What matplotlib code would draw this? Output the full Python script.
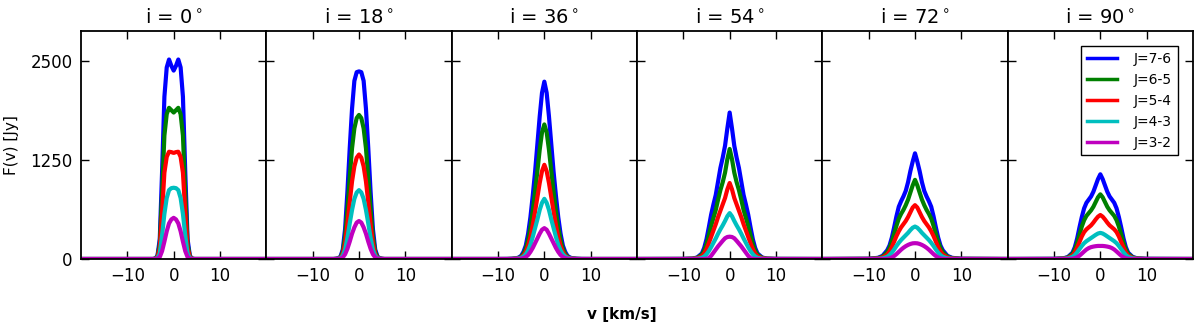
import numpy as np
import matplotlib
matplotlib.use("Agg")
import matplotlib.pyplot as plt

# Half-profile velocity grid (km/s); profiles are symmetric about v=0
v_half = [0, 0.5, 1, 1.5, 2, 2.5, 3, 3.5, 4, 4.5, 5, 5.5, 6, 7, 8, 10, 20]

inclinations = [0, 18, 36, 54, 72, 90]
transitions = ["J=7-6", "J=6-5", "J=5-4", "J=4-3", "J=3-2"]
colors = ["b", "g", "r", "c", "m"]

# Flux (Jy) per inclination, per transition, on v_half
flux_i0 = [
    [2380, 2440, 2520, 2420, 2050, 1100, 250, 40, 5, 0, 0, 0, 0, 0, 0, 0, 0],
    [1850, 1880, 1910, 1830, 1560, 830, 190, 30, 4, 0, 0, 0, 0, 0, 0, 0, 0],
    [1340, 1350, 1355, 1290, 1090, 590, 140, 20, 3, 0, 0, 0, 0, 0, 0, 0, 0],
    [900, 895, 870, 770, 570, 300, 70, 10, 2, 0, 0, 0, 0, 0, 0, 0, 0],
    [520, 500, 450, 350, 220, 100, 25, 5, 0, 0, 0, 0, 0, 0, 0, 0, 0],
]
flux_i18 = [
    [2370, 2360, 2250, 1900, 1400, 850, 380, 120, 30, 10, 3, 0, 0, 0, 0, 0, 0],
    [1820, 1780, 1650, 1400, 1030, 630, 280, 90, 20, 6, 2, 0, 0, 0, 0, 0, 0],
    [1320, 1280, 1170, 980, 720, 440, 200, 60, 15, 4, 1, 0, 0, 0, 0, 0, 0],
    [870, 840, 760, 620, 450, 270, 120, 40, 10, 3, 0, 0, 0, 0, 0, 0, 0],
    [480, 460, 400, 320, 220, 130, 60, 20, 5, 1, 0, 0, 0, 0, 0, 0, 0],
]
flux_i36 = [
    [2240, 2100, 1800, 1450, 1100, 800, 530, 320, 170, 90, 40, 20, 10, 3, 1, 0, 0],
    [1700, 1600, 1380, 1110, 850, 610, 400, 240, 130, 65, 30, 14, 7, 2, 0, 0, 0],
    [1190, 1110, 960, 780, 600, 430, 280, 170, 90, 45, 20, 10, 5, 1, 0, 0, 0],
    [760, 710, 620, 500, 390, 280, 180, 110, 60, 30, 15, 7, 3, 1, 0, 0, 0],
    [390, 370, 320, 260, 200, 140, 90, 50, 25, 12, 5, 2, 1, 0, 0, 0, 0],
]
flux_i54 = [
    [1850, 1650, 1430, 1280, 1150, 980, 810, 690, 560, 400, 250, 140, 70, 20, 5, 1, 0],
    [1390, 1260, 1090, 970, 870, 750, 620, 520, 420, 300, 190, 105, 55, 15, 4, 1, 0],
    [960, 880, 770, 690, 610, 530, 440, 360, 280, 200, 125, 70, 35, 10, 3, 0, 0],
    [580, 540, 480, 425, 375, 320, 260, 205, 150, 100, 60, 32, 16, 4, 1, 0, 0],
    [282, 278, 262, 230, 195, 160, 120, 80, 40, 12, 3, 0, 0, 0, 0, 0, 0],
]
flux_i72 = [
    [1335, 1230, 1110, 970, 860, 790, 730, 660, 540, 400, 270, 170, 110, 40, 15, 3, 0],
    [1000, 930, 840, 750, 680, 620, 570, 510, 420, 320, 220, 140, 85, 30, 10, 2, 0],
    [680, 650, 590, 530, 480, 440, 400, 350, 290, 220, 150, 95, 55, 20, 6, 1, 0],
    [410, 395, 365, 330, 300, 270, 240, 205, 165, 120, 80, 50, 28, 8, 2, 0, 0],
    [200, 198, 190, 178, 162, 142, 118, 90, 62, 38, 20, 8, 3, 0, 0, 0, 0],
]
flux_i90 = [
    [1070, 1010, 930, 850, 790, 750, 710, 640, 530, 400, 260, 150, 80, 25, 8, 2, 0],
    [817, 780, 720, 660, 615, 580, 545, 490, 410, 310, 205, 120, 65, 20, 6, 1, 0],
    [556, 535, 500, 460, 425, 400, 375, 340, 285, 215, 145, 85, 45, 14, 4, 0, 0],
    [330, 322, 305, 285, 265, 245, 225, 200, 165, 125, 85, 50, 28, 8, 2, 0, 0],
    [165, 165, 162, 157, 150, 138, 120, 95, 68, 42, 22, 10, 4, 0, 0, 0, 0],
]
all_flux = [flux_i0, flux_i18, flux_i36, flux_i54, flux_i72, flux_i90]

y_ticks = [0, 1250, 2500]
x_ticks = [-10, 0, 10]

vh = np.array(v_half, dtype=float)
v_full = np.concatenate([-vh[::-1], vh[1:]])

fig = plt.figure(figsize=(12, 3.32), dpi=100)
left, right = 81 / 1200, 1193 / 1200
bottom, top = 1 - 259 / 332, 1 - 31 / 332
fig.subplots_adjust(left=left, right=right, bottom=bottom, top=top, wspace=0)
axes = fig.subplots(1, 6, sharey=True)

for k, ax in enumerate(axes):
    for j, series in enumerate(all_flux[k]):
        s = np.array(series, dtype=float)
        f_full = np.concatenate([s[::-1], s[1:]])
        ax.plot(v_full, f_full, color=colors[j], lw=3.0, label=transitions[j],
                solid_joinstyle="round")
    ax.set_xlim(-20, 20)
    ax.set_ylim(0, 2880)
    ax.set_xticks(x_ticks)
    ax.set_yticks(y_ticks)
    ax.tick_params(direction="in", top=True, right=True, length=6, width=1,
                   labelsize=12, pad=6)
    for sp in ax.spines.values():
        sp.set_linewidth(1.3)
    ax.set_title(r"i = %d$^\circ$" % inclinations[k], fontsize=14, pad=6)
    if k > 0:
        ax.tick_params(labelleft=False)

axes[0].set_ylabel("F(v) [Jy]", fontsize=11, labelpad=8)

leg = axes[-1].legend(loc="upper right", fontsize=10, fancybox=False,
                      framealpha=1, edgecolor="black", handlelength=2.2,
                      borderaxespad=1.1, handletextpad=1.2, labelspacing=0.5)
leg.get_frame().set_linewidth(1.0)
for line in leg.get_lines():
    line.set_linewidth(2.5)

fig.text(622 / 1200, 1 - 315 / 332, "v [km/s]", ha="center", va="center",
         fontsize=11, fontweight="bold")

fig.savefig("out.png", dpi=100)
